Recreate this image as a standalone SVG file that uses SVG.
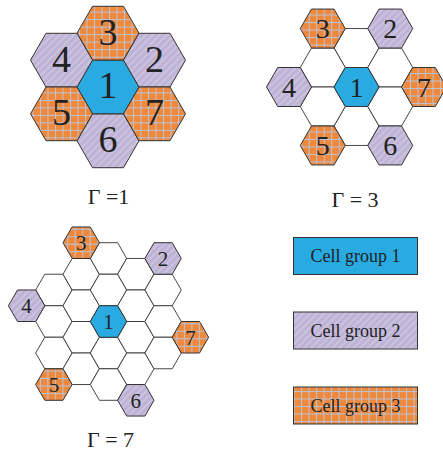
<svg xmlns="http://www.w3.org/2000/svg" width="443" height="456" viewBox="0 0 443 456">
<defs>
<pattern id="stripe" patternUnits="userSpaceOnUse" width="5" height="5" patternTransform="rotate(45)">
<rect width="5" height="5" fill="#bfb3d5"/>
<line x1="1" y1="0" x2="1" y2="5" stroke="#cdc7e3" stroke-width="1.6"/>
</pattern>
<pattern id="grid" patternUnits="userSpaceOnUse" width="7.5" height="7.5" x="1" y="1">
<rect width="7.5" height="7.5" fill="#f0883a"/>
<line x1="0.5" y1="0" x2="0.5" y2="7.5" stroke="#b9c3da" stroke-width="1"/>
<line x1="0" y1="0.5" x2="7.5" y2="0.5" stroke="#b9c3da" stroke-width="1"/>
</pattern>
<polygon id="h31" points="31,0 15.5,26.85 -15.5,26.85 -31,0 -15.5,-26.85 15.5,-26.85"/>
<polygon id="h22" points="22.5,0 11.25,19.49 -11.25,19.49 -22.5,0 -11.25,-19.49 11.25,-19.49"/>
<polygon id="h18" points="18.2,0 9.1,15.76 -9.1,15.76 -18.2,0 -9.1,-15.76 9.1,-15.76"/>
</defs>
<style>
.hx{stroke:#333;stroke-width:1;stroke-linejoin:miter}
.w{fill:#fff;stroke:#333;stroke-width:0.9}
.g1{fill:#29abe2}
.g2{fill:url(#stripe)}
.g3{fill:url(#grid)}
text{font-family:'Liberation Serif','DejaVu Serif',serif;fill:#222;text-anchor:middle}
.big{font-size:38px}
.mid{font-size:28px}
.sm{font-size:21px}
.lab{font-size:22px}
.leg{font-size:18px}
.lr{stroke:#333;stroke-width:1}
</style>

<g id="gamma1">
<g id="c1-1"><use href="#h31" x="108" y="87" class="hx g1"/><text class="big" x="108" y="98.3">1</text></g>
<g id="c1-3"><use href="#h31" x="108" y="33.15" class="hx g3"/><text class="big" x="108" y="44.5">3</text></g>
<g id="c1-6"><use href="#h31" x="108" y="140.85" class="hx g2"/><text class="big" x="108" y="152.2">6</text></g>
<g id="c1-4"><use href="#h31" x="61.5" y="60.15" class="hx g2"/><text class="big" x="61.5" y="71.5">4</text></g>
<g id="c1-2"><use href="#h31" x="154.5" y="60.15" class="hx g2"/><text class="big" x="154.5" y="71.5">2</text></g>
<g id="c1-5"><use href="#h31" x="61.5" y="113.85" class="hx g3"/><text class="big" x="61.5" y="125.2">5</text></g>
<g id="c1-7"><use href="#h31" x="154.5" y="113.85" class="hx g3"/><text class="big" x="154.5" y="125.2">7</text></g>
<text id="lab1" class="lab" x="108.5" y="204">Γ =1</text>
</g>

<g id="gamma3">
<g id="w3">
<use href="#h22" x="356.5" y="48.03" class="w"/>
<use href="#h22" x="356.5" y="125.97" class="w"/>
<use href="#h22" x="322.75" y="67.51" class="w"/>
<use href="#h22" x="390.25" y="67.51" class="w"/>
<use href="#h22" x="322.75" y="106.49" class="w"/>
<use href="#h22" x="390.25" y="106.49" class="w"/>
</g>
<g id="c3-1"><use href="#h22" x="356.5" y="87" class="hx g1"/><text class="mid" x="356.5" y="96.8">1</text></g>
<g id="c3-3"><use href="#h22" x="322.75" y="28.54" class="hx g3"/><text class="mid" x="322.75" y="38.3">3</text></g>
<g id="c3-2"><use href="#h22" x="390.25" y="28.54" class="hx g2"/><text class="mid" x="390.25" y="38.3">2</text></g>
<g id="c3-4"><use href="#h22" x="289" y="87" class="hx g2"/><text class="mid" x="289" y="96.8">4</text></g>
<g id="c3-7"><use href="#h22" x="424" y="87" class="hx g3"/><text class="mid" x="424" y="96.8">7</text></g>
<g id="c3-5"><use href="#h22" x="322.75" y="145.46" class="hx g3"/><text class="mid" x="322.75" y="155.2">5</text></g>
<g id="c3-6"><use href="#h22" x="390.25" y="145.46" class="hx g2"/><text class="mid" x="390.25" y="155.2">6</text></g>
<text id="lab3" class="lab" x="355" y="206.5">Γ = 3</text>
</g>

<g id="gamma7">
<g id="w7">
<use href="#h18" x="53.9" y="289.98" class="w"/>
<use href="#h18" x="53.9" y="321.5" class="w"/>
<use href="#h18" x="53.9" y="353.02" class="w"/>
<use href="#h18" x="81.2" y="274.22" class="w"/>
<use href="#h18" x="81.2" y="305.74" class="w"/>
<use href="#h18" x="81.2" y="337.26" class="w"/>
<use href="#h18" x="81.2" y="368.78" class="w"/>
<use href="#h18" x="108.5" y="258.46" class="w"/>
<use href="#h18" x="108.5" y="289.98" class="w"/>
<use href="#h18" x="108.5" y="353.02" class="w"/>
<use href="#h18" x="108.5" y="384.54" class="w"/>
<use href="#h18" x="135.8" y="274.22" class="w"/>
<use href="#h18" x="135.8" y="305.74" class="w"/>
<use href="#h18" x="135.8" y="337.26" class="w"/>
<use href="#h18" x="135.8" y="368.78" class="w"/>
<use href="#h18" x="163.1" y="289.98" class="w"/>
<use href="#h18" x="163.1" y="321.5" class="w"/>
<use href="#h18" x="163.1" y="353.02" class="w"/>
</g>
<g id="c7-1"><use href="#h18" x="108.5" y="321.5" class="hx g1"/><text class="sm" x="108.5" y="329">1</text></g>
<g id="c7-3"><use href="#h18" x="81.2" y="242.7" class="hx g3"/><text class="sm" x="81.2" y="250.2">3</text></g>
<g id="c7-2"><use href="#h18" x="163.1" y="258.46" class="hx g2"/><text class="sm" x="163.1" y="266">2</text></g>
<g id="c7-4"><use href="#h18" x="26.6" y="305.74" class="hx g2"/><text class="sm" x="26.6" y="313.2">4</text></g>
<g id="c7-7"><use href="#h18" x="190.4" y="337.26" class="hx g3"/><text class="sm" x="190.4" y="344.8">7</text></g>
<g id="c7-5"><use href="#h18" x="53.9" y="384.54" class="hx g3"/><text class="sm" x="53.9" y="392">5</text></g>
<g id="c7-6"><use href="#h18" x="135.8" y="400.3" class="hx g2"/><text class="sm" x="135.8" y="407.8">6</text></g>
<text id="lab7" class="lab" x="110.5" y="446.5">Γ = 7</text>
</g>

<g id="legend">
<g id="leg1"><rect x="293.5" y="237.5" width="124" height="37" class="lr g1"/><text class="leg" x="355.5" y="262">Cell group 1</text></g>
<g id="leg2"><rect x="293.5" y="312" width="124" height="37" class="lr g2"/><text class="leg" x="355.5" y="336.5">Cell group 2</text></g>
<g id="leg3"><rect x="293.5" y="387" width="124" height="37" class="lr g3"/><text class="leg" x="355.5" y="411.5">Cell group 3</text></g>
</g>
<g id="connectors"/>
</svg>
